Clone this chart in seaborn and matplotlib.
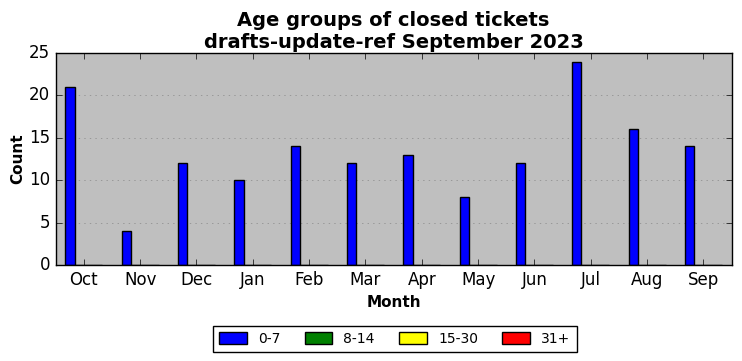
"""Age groups of closed tickets per month, grouped bar chart."""

import matplotlib.pyplot as plt
import pandas as pd
import seaborn as sns

plt.switch_backend("Agg")

MONTHS = ["Oct", "Nov", "Dec", "Jan", "Feb", "Mar",
          "Apr", "May", "Jun", "Jul", "Aug", "Sep"]
AGE_GROUPS = ["0-7", "8-14", "15-30", "31+"]
COUNTS_0_7 = [21, 4, 12, 10, 14, 12, 13, 8, 12, 24, 16, 14]
COUNTS_8_14 = [0] * 12
COUNTS_15_30 = [0] * 12
COUNTS_31_PLUS = [0] * 12
COLORS = ["blue", "green", "yellow", "red"]

series = [COUNTS_0_7, COUNTS_8_14, COUNTS_15_30, COUNTS_31_PLUS]
rows = []
for group, values in zip(AGE_GROUPS, series):
    for month, value in zip(MONTHS, values):
        rows.append({"Month": month, "Age": group, "Count": value})
data = pd.DataFrame(rows)

plt.style.use("classic")
plt.rcParams["figure.facecolor"] = "white"
plt.rcParams["savefig.facecolor"] = "white"

fig, ax = plt.subplots(figsize=(7.42, 3.61), dpi=100)
fig.subplots_adjust(left=0.075, right=0.986, top=0.853, bottom=0.266)

sns.barplot(
    data=data, x="Month", y="Count", hue="Age",
    order=MONTHS, hue_order=AGE_GROUPS, palette=COLORS,
    width=0.66, edgecolor="black", linewidth=1, saturation=1,
    legend=True, ax=ax,
)

ax.set_facecolor("#bfbfbf")
ax.set_ylim(0, 25)
ax.set_xlim(-0.5, len(MONTHS) - 0.5)
ax.yaxis.grid(True, linestyle=":", color="#888888")
ax.set_axisbelow(True)
ax.set_xlabel("Month", fontsize=11, fontweight="bold")
ax.set_ylabel("Count", fontsize=11, fontweight="bold", labelpad=3)
ax.set_title("Age groups of closed tickets\ndrafts-update-ref September 2023",
             fontsize=14, fontweight="bold", pad=4)

handles, labels = ax.get_legend_handles_labels()
ax.get_legend().remove()
fig.legend(handles, labels, loc="lower center", ncol=4, fontsize=10,
           bbox_to_anchor=(0.532, 0.005), frameon=True, fancybox=False,
           handlelength=2.0, handleheight=0.9, columnspacing=1.75,
           borderpad=0.45)

fig.savefig("out.png", dpi=100)
